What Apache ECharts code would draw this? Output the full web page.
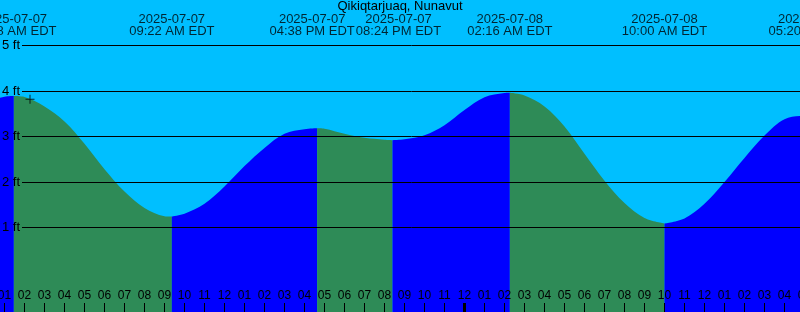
<!DOCTYPE html>
<html>
<head>
<meta charset="utf-8">
<title>Qikiqtarjuaq, Nunavut</title>
<script src="https://cdn.jsdelivr.net/npm/echarts@6.0.0/dist/echarts.min.js"></script>
<style>
    html, body { margin: 0; padding: 0; background: #00bfff; }
    #tide { width: 800px; height: 312px; }
</style>
</head>
<body>
<div id="tide"></div>
<script>
// x = hours since 2025-07-07 00:00 EDT
var hourLabels = ['12', '01', '02', '03', '04', '05', '06', '07', '08', '09', '10', '11',
    '12', '01', '02', '03', '04', '05', '06', '07', '08', '09', '10', '11',
    '12', '01', '02', '03', '04', '05', '06', '07', '08', '09', '10', '11',
    '12', '01', '02', '03', '04', '05'];

// water level (ft) read at every full hour, t = 0..41 (t=34 is the low itself)
var hourlyFt = [3.76, 3.875, 3.87, 3.66, 3.33, 2.84, 2.28, 1.79, 1.43, 1.25,
    1.30, 1.52, 1.90, 2.35, 2.75, 3.06, 3.16, 3.17, 3.06, 2.97,
    2.93, 2.94, 3.03, 3.25, 3.58, 3.86, 3.955, 3.90, 3.66, 3.22,
    2.62, 2.03, 1.54, 1.21, null, 1.20, 1.52, 2.00, 2.53, 3.02,
    3.38, 3.46];

// highs and lows
var tideDates = ['2025-07-07', '2025-07-07', '2025-07-07', '2025-07-07', '2025-07-08', '2025-07-08', '2025-07-08'];
var tideTimes = ['01:28 AM EDT', '09:22 AM EDT', '04:38 PM EDT', '08:24 PM EDT', '02:16 AM EDT', '10:00 AM EDT', '05:20 PM EDT'];
var tideHours = [1.467, 9.367, 16.633, 20.4, 26.267, 34, 41.333];
var tideFt = [3.89, 1.24, 3.18, 2.92, 3.96, 1.09, 3.47];

var footLevels = [1, 2, 3, 4, 5];
var midnight = 24;
var nowMark = [2.275, 3.82];

var FONT = '"Liberation Sans", Arial, sans-serif';
var SKY = '#00bfff', RISE = '#0000ff', FALL = '#2e8b57';
var Y_MIN = -0.857, Y_MAX = 6.0;
var LINE_START_T = 1.875;   // ft lines start a little right of the labels
var LABEL_Y = 5.44;          // height where the high/low labels sit
var labelNudge = {2: -5, 3: 6};  // the two close labels are pushed apart

// all points, sorted by time
var points = [];
hourlyFt.forEach(function (v, t) {
    if (v !== null) points.push([t, v]);
});
tideHours.forEach(function (t, i) {
    points.push([t, tideFt[i]]);
});
points.sort(function (a, b) { return a[0] - b[0]; });

// one filled series per run between two turning points
var cuts = [-Infinity].concat(tideHours).concat([Infinity]);
var series = [];
for (var j = 0; j < cuts.length - 1; j++) {
    var seg = points.filter(function (p) { return p[0] >= cuts[j] && p[0] <= cuts[j + 1]; });
    if (seg.length < 2) continue;
    var col = seg[seg.length - 1][1] > seg[0][1] ? RISE : FALL;
    series.push({
        type: 'line',
        data: seg,
        smooth: 0.35,
        symbol: 'none',
        silent: true,
        lineStyle: {width: 0, color: col},
        areaStyle: {color: col, opacity: 1, origin: 'start'},
        z: 2
    });
}

// ft lines, plus the heavier tick at midnight
var markData = footLevels.map(function (v) {
    return [{coord: [LINE_START_T, v], name: v + ' ft'}, {coord: [41, v]}];
});
markData.push([
    {coord: [midnight, Y_MIN], lineStyle: {width: 3}, label: {show: false}},
    {coord: [midnight, Y_MIN + 9 / 45.5]}
]);
series[0].markLine = {
    silent: true,
    symbol: ['none', 'none'],
    animation: false,
    lineStyle: {color: '#000', width: 1, type: 'solid'},
    label: {
        position: 'start', distance: 2,
        formatter: function (p) { return p.name; },
        color: '#000', fontSize: 13, fontFamily: FONT
    },
    data: markData
};

// high / low time labels
series.push({
    type: 'scatter',
    silent: true,
    clip: false,
    symbolSize: 0,
    z: 6,
    data: tideHours.map(function (t, i) {
        return {value: [t, LABEL_Y], label: {offset: [labelNudge[i] || 0, 0]}};
    }),
    label: {
        show: true,
        position: 'inside',
        formatter: function (p) { return tideDates[p.dataIndex] + '\n' + tideTimes[p.dataIndex]; },
        color: '#000', fontSize: 13, lineHeight: 12.3, fontFamily: FONT
    }
});

// current time cross
series.push({
    type: 'scatter',
    silent: true,
    symbol: 'path://M0,4H9V5H0Z M4,0H5V9H4Z',
    symbolSize: 9,
    itemStyle: {color: '#000'},
    z: 7,
    data: [nowMark]
});

var myChart = echarts.init(document.getElementById('tide'));
myChart.setOption({
    animation: false,
    backgroundColor: SKY,
    title: {
        text: 'Qikiqtarjuaq, Nunavut',
        left: 'center',
        top: 0,
        padding: 0,
        textStyle: {color: '#000', fontSize: 13, fontWeight: 'normal', fontFamily: FONT}
    },
    grid: {left: -15.5, top: 0, width: 820, height: 312, containLabel: false, outerBoundsMode: 'none'},
    xAxis: {
        type: 'value', min: 0, max: 41, interval: 1, position: 'bottom', z: 10,
        axisLine: {show: false, onZero: false},
        splitLine: {show: false},
        axisTick: {inside: true, length: 9, lineStyle: {color: '#000', width: 1}},
        axisLabel: {
            inside: true, margin: 10, showMinLabel: true, showMaxLabel: true,
            formatter: function (v) { return hourLabels[v]; },
            color: '#000', fontSize: 12, fontFamily: FONT
        }
    },
    yAxis: {type: 'value', min: Y_MIN, max: Y_MAX, show: false},
    series: series
});
</script>
</body>
</html>
